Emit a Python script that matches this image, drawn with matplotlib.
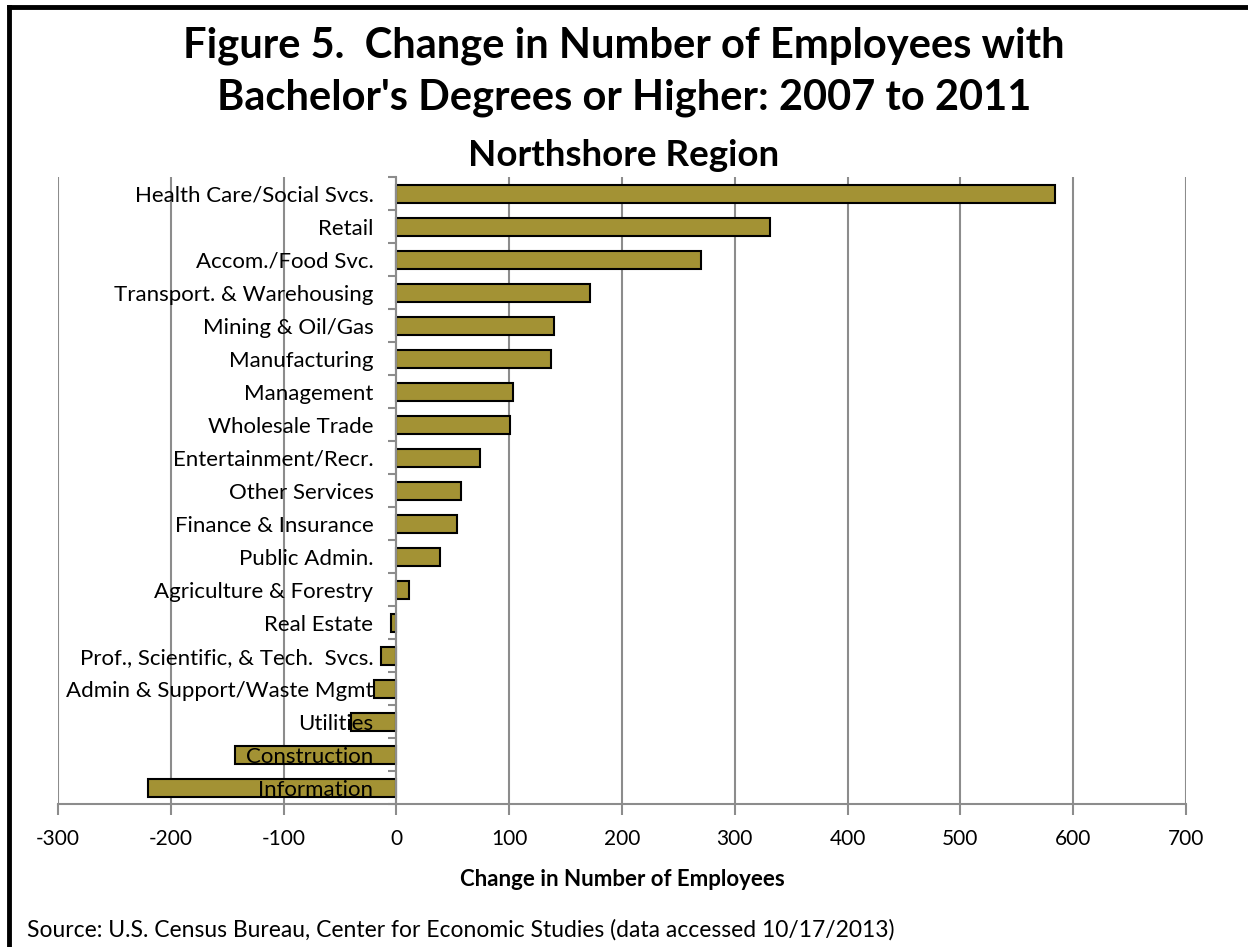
import matplotlib.pyplot as plt
import numpy as np
from matplotlib.lines import Line2D

# data (top to bottom)
industries = ["Health Care/Social Svcs.", "Retail", "Accom./Food Svc.",
              "Transport. & Warehousing", "Mining & Oil/Gas", "Manufacturing",
              "Management", "Wholesale Trade", "Entertainment/Recr.",
              "Other Services", "Finance & Insurance", "Public Admin.",
              "Agriculture & Forestry", "Real Estate",
              "Prof., Scientific, & Tech.  Svcs.", "Admin & Support/Waste Mgmt",
              "Utilities", "Construction", "Information"]
change = [584, 331, 270, 172, 140, 137, 103, 101, 74, 57, 54, 39, 11,
          -5, -14, -20, -40, -143, -220]
xticks = [-300, -200, -100, 0, 100, 200, 300, 400, 500, 600, 700]

plt.rcParams['font.family'] = ['Lato', 'DejaVu Sans']

fig = plt.figure(figsize=(12.48, 9.47), dpi=100)
ax = fig.add_axes([0.0465, 0.1505, 0.9038, 0.6621])

grey = "#8c8c8c"

# vertical gridlines under the bars
for v in xticks:
    ax.axvline(v, color=grey, linewidth=1.5, zorder=0)

y = np.arange(len(industries))
ax.barh(y, change, height=0.55, color="#a39234", edgecolor="black",
        linewidth=1.5, zorder=1)
ax.set_axisbelow(False)  # category labels sit on top of the bars, like Excel

for s in ["top", "right"]:
    ax.spines[s].set_visible(False)
ax.spines["left"].set_position(("data", 0))
ax.spines["left"].set_color(grey)
ax.spines["left"].set_linewidth(1.5)
ax.spines["bottom"].set_color(grey)
ax.spines["bottom"].set_linewidth(1.5)

ax.set_xlim(-300, 700)
ax.set_ylim(len(industries) - 0.5, -0.5)
ax.set_xticks(xticks)
ax.set_xticklabels([str(v) for v in xticks], fontsize=15)
ax.set_yticks(y)
ax.set_yticklabels(industries, fontsize=16)
ax.tick_params(axis="y", length=0, pad=16.5)
ax.set_yticks(np.arange(len(industries) + 1) - 0.5, minor=True)
ax.tick_params(axis="y", which="minor", length=6, width=1.5, color=grey)
ax.tick_params(axis="x", length=8, width=1.5, color=grey, pad=10)

ax.set_xlabel("Change in Number of Employees", fontsize=16,
              fontweight="bold", labelpad=14)

fig.text(0.5, 0.952, "Figure 5.  Change in Number of Employees with",
         ha="center", va="center", fontsize=30, fontweight="bold")
fig.text(0.5, 0.897, "Bachelor's Degrees or Higher: 2007 to 2011",
         ha="center", va="center", fontsize=30, fontweight="bold")
fig.text(0.5, 0.836, "Northshore Region", ha="center", va="center",
         fontsize=26.5, fontweight="bold")
fig.text(27 / 1248, 1 - 930 / 947, "Source: U.S. Census Bureau, Center for Economic Studies (data accessed 10/17/2013)",
         ha="left", va="center", fontsize=16.5)

# frame (top and left edges)
fig.add_artist(Line2D([9 / 1248, 1], [1 - 7 / 947, 1 - 7 / 947],
                      color="black", linewidth=3.5, transform=fig.transFigure))
fig.add_artist(Line2D([9 / 1248, 9 / 1248], [0, 1 - 7 / 947],
                      color="black", linewidth=3.5, transform=fig.transFigure))

fig.savefig("out.png", dpi=100)
